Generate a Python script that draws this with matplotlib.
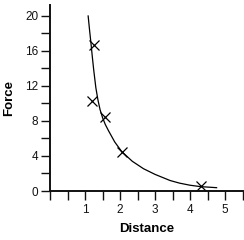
import matplotlib
matplotlib.use("Agg")
import matplotlib.pyplot as plt
from matplotlib.ticker import MultipleLocator

plt.rcParams['font.family'] = ['Liberation Sans', 'DejaVu Sans']

# measured points (crosses)
point_distance = [1.27, 1.19, 1.57, 2.06, 4.31]
point_force = [16.7, 10.3, 8.4, 4.4, 0.6]

# best-fit curve
curve_distance = [1.09, 1.13, 1.17, 1.21, 1.25, 1.31, 1.37, 1.43, 1.50, 1.58, 1.67,
                  1.85, 2.05, 2.35, 2.67, 3.0, 3.43, 3.7, 4.0, 4.3, 4.76]
curve_force = [20.0, 18.4, 16.9, 15.3, 13.8, 11.8, 10.4, 9.3, 8.4, 7.6, 6.9,
               5.6, 4.5, 3.4, 2.55, 1.9, 1.2, 0.9, 0.66, 0.5, 0.38]

fig = plt.figure(figsize=(2.44, 2.40), dpi=100)
ax = fig.add_axes([50 / 244, 49 / 240, 192.5 / 244, 186.4 / 240])

ax.plot(curve_distance, curve_force, color='black', lw=0.9)
ax.plot(point_distance, point_force, 'x', color='black', ms=6.5, mew=0.9)

ax.set_xlim(0, 5.5)
ax.set_ylim(0, 21.3)

ax.spines['top'].set_visible(False)
ax.spines['right'].set_visible(False)
for s in ['left', 'bottom']:
    ax.spines[s].set_linewidth(1.4)
    ax.spines[s].set_color('#111111')

ax.xaxis.set_minor_locator(MultipleLocator(0.5))
ax.yaxis.set_minor_locator(MultipleLocator(2))
ax.set_xticks([1, 2, 3, 4, 5])
ax.set_xticklabels(['1', '2', '3', '4', '5'])
ax.set_yticks([0, 4, 8, 12, 16, 20])
ax.set_yticklabels(['0', '4', '8', '12', '16', '20'])

ax.tick_params(which='both', direction='out', length=6.5, width=1.0, color='#111111')
ax.tick_params(axis='both', labelsize=8.5, colors='#111111', pad=2)
ax.tick_params(axis='x', pad=3)

ax.set_xlabel('Distance', fontsize=9.5, fontweight='bold', labelpad=5)
ax.set_ylabel('Force', fontsize=9.5, fontweight='bold', labelpad=7)

fig.savefig('out.png', dpi=100)
